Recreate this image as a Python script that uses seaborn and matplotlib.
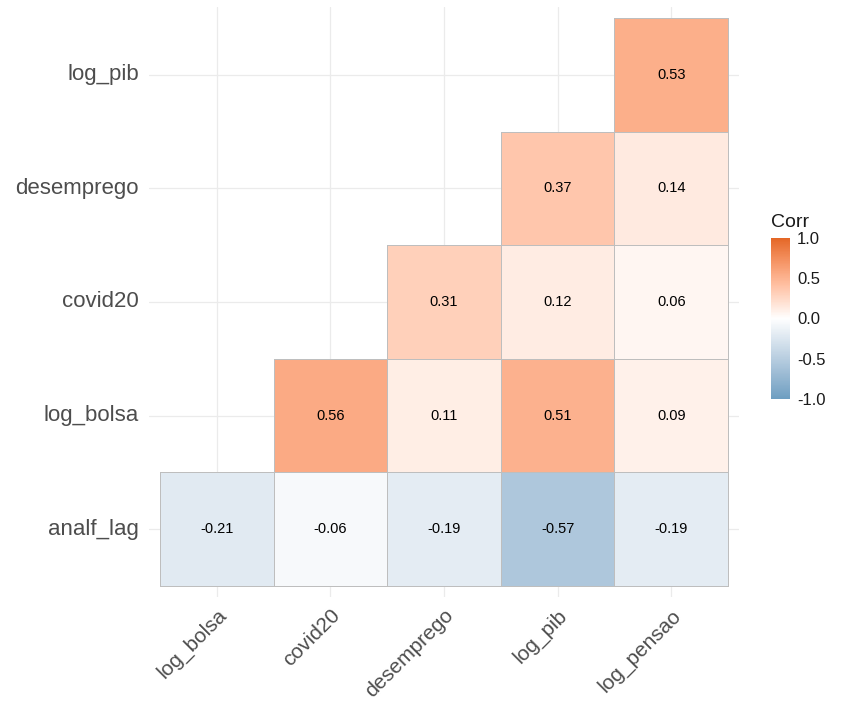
import numpy as np
import pandas as pd
import matplotlib
matplotlib.use("Agg")
import matplotlib.pyplot as plt
from matplotlib.colors import ListedColormap, to_rgba, to_rgb
import seaborn as sns

# Correlation matrix (lower triangle), rows listed top to bottom
row_vars = ["log_pib", "desemprego", "covid20", "log_bolsa", "analf_lag"]
col_vars = ["log_bolsa", "covid20", "desemprego", "log_pib", "log_pensao"]

r_log_pib    = [np.nan, np.nan, np.nan, np.nan, 0.53]
r_desemprego = [np.nan, np.nan, np.nan, 0.37, 0.14]
r_covid20    = [np.nan, np.nan, 0.31, 0.12, 0.06]
r_log_bolsa  = [np.nan, 0.56, 0.11, 0.51, 0.09]
r_analf_lag  = [-0.21, -0.06, -0.19, -0.57, -0.19]

corr = pd.DataFrame(
    [r_log_pib, r_desemprego, r_covid20, r_log_bolsa, r_analf_lag],
    index=row_vars, columns=col_vars,
)
mask = corr.isna()

low_col, mid_col, high_col = "#6D9EC1", "#FFFFFF", "#E46726"


# diverging palette interpolated in CIELAB space
_M = np.array([[0.4124, 0.3576, 0.1805],
               [0.2126, 0.7152, 0.0722],
               [0.0193, 0.1192, 0.9505]])
_WHITE = _M.sum(axis=1)


def _to_lab(c):
    rgb = np.array(to_rgb(c))
    lin = np.where(rgb <= 0.04045, rgb / 12.92, ((rgb + 0.055) / 1.055) ** 2.4)
    xyz = _M @ lin / _WHITE
    f = np.where(xyz > (6 / 29) ** 3, np.cbrt(xyz), xyz / (3 * (6 / 29) ** 2) + 4 / 29)
    return np.array([116 * f[1] - 16, 500 * (f[0] - f[1]), 200 * (f[1] - f[2])])


def _from_lab(lab):
    L, a, b = lab
    fy = (L + 16) / 116
    f = np.array([fy + a / 500, fy, fy - b / 200])
    xyz = np.where(f > 6 / 29, f ** 3, 3 * (6 / 29) ** 2 * (f - 4 / 29)) * _WHITE
    lin = np.linalg.solve(_M, xyz)
    rgb = np.where(lin <= 0.0031308, 12.92 * lin, 1.055 * np.clip(lin, 0, None) ** (1 / 2.4) - 0.055)
    return np.clip(rgb, 0, 1)


def lab_diverging(low, mid, high, n=256):
    lo, md, hi = _to_lab(low), _to_lab(mid), _to_lab(high)
    cols = []
    for t in np.linspace(-1, 1, n):
        if t < 0:
            cols.append(_from_lab(md + (lo - md) * (-t)))
        else:
            cols.append(_from_lab(md + (hi - md) * t))
    return ListedColormap(cols, name="corr")


cmap = lab_diverging(low_col, mid_col, high_col)

sns.set_theme(style="white")
plt.rcParams["font.family"] = ["Liberation Sans", "DejaVu Sans"]

W, H = 844, 706
fig = plt.figure(figsize=(W / 100, H / 100), dpi=100)
fig.patch.set_facecolor("white")

ax = fig.add_axes([148.6 / W, 1 - 597.4 / H, (739.4 - 148.6) / W, (597.4 - 6.6) / H])
cax = fig.add_axes([771 / W, 1 - 399 / H, 19 / W, 161 / H])

sns.heatmap(
    corr, mask=mask, cmap=cmap, vmin=-1, vmax=1,
    annot=True, fmt=".2f",
    annot_kws={"size": 10.5, "color": "black"},
    linewidths=0.7, linecolor="#BEBEBE",
    ax=ax, cbar_ax=cax, square=False,
)

# outline only the drawn tiles, not the empty upper triangle
mesh = ax.collections[0]
edge = np.array([to_rgba("#BEBEBE") if not m else (0, 0, 0, 0)
                 for m in mask.values.ravel()])
mesh.set_edgecolor(edge)

# panel: light grid at category centres, small margin around the tiles
ax.set_xlim(-0.1, 5.1)
ax.set_ylim(5.1, -0.1)
ax.set_axisbelow(True)
ax.grid(True, color="#EBEBEB", linewidth=0.9)
for s in ax.spines.values():
    s.set_visible(False)
ax.set_xlabel("")
ax.set_ylabel("")
ax.tick_params(axis="both", length=0, labelcolor="#4D4D4D")
ax.tick_params(axis="y", labelsize=16, pad=7)
ax.tick_params(axis="x", labelsize=15, pad=6)
plt.setp(ax.get_yticklabels(), rotation=0)
plt.setp(ax.get_xticklabels(), rotation=45, ha="right", va="top", rotation_mode="anchor")

# colour bar legend
cbar = ax.collections[0].colorbar
cbar.outline.set_visible(False)
ticks = [-1.0, -0.5, 0.0, 0.5, 1.0]
cbar.set_ticks(ticks)
cbar.set_ticklabels([f"{t:.1f}" for t in ticks])
cax.tick_params(axis="y", direction="in", length=4, width=1, color="white",
                left=True, right=True, labelleft=False, labelright=True,
                labelsize=12, labelcolor="#1A1A1A", pad=5)
cax.set_title("Corr", loc="left", fontsize=14, color="#1A1A1A", pad=8)

fig.savefig("out.png", dpi=100)
